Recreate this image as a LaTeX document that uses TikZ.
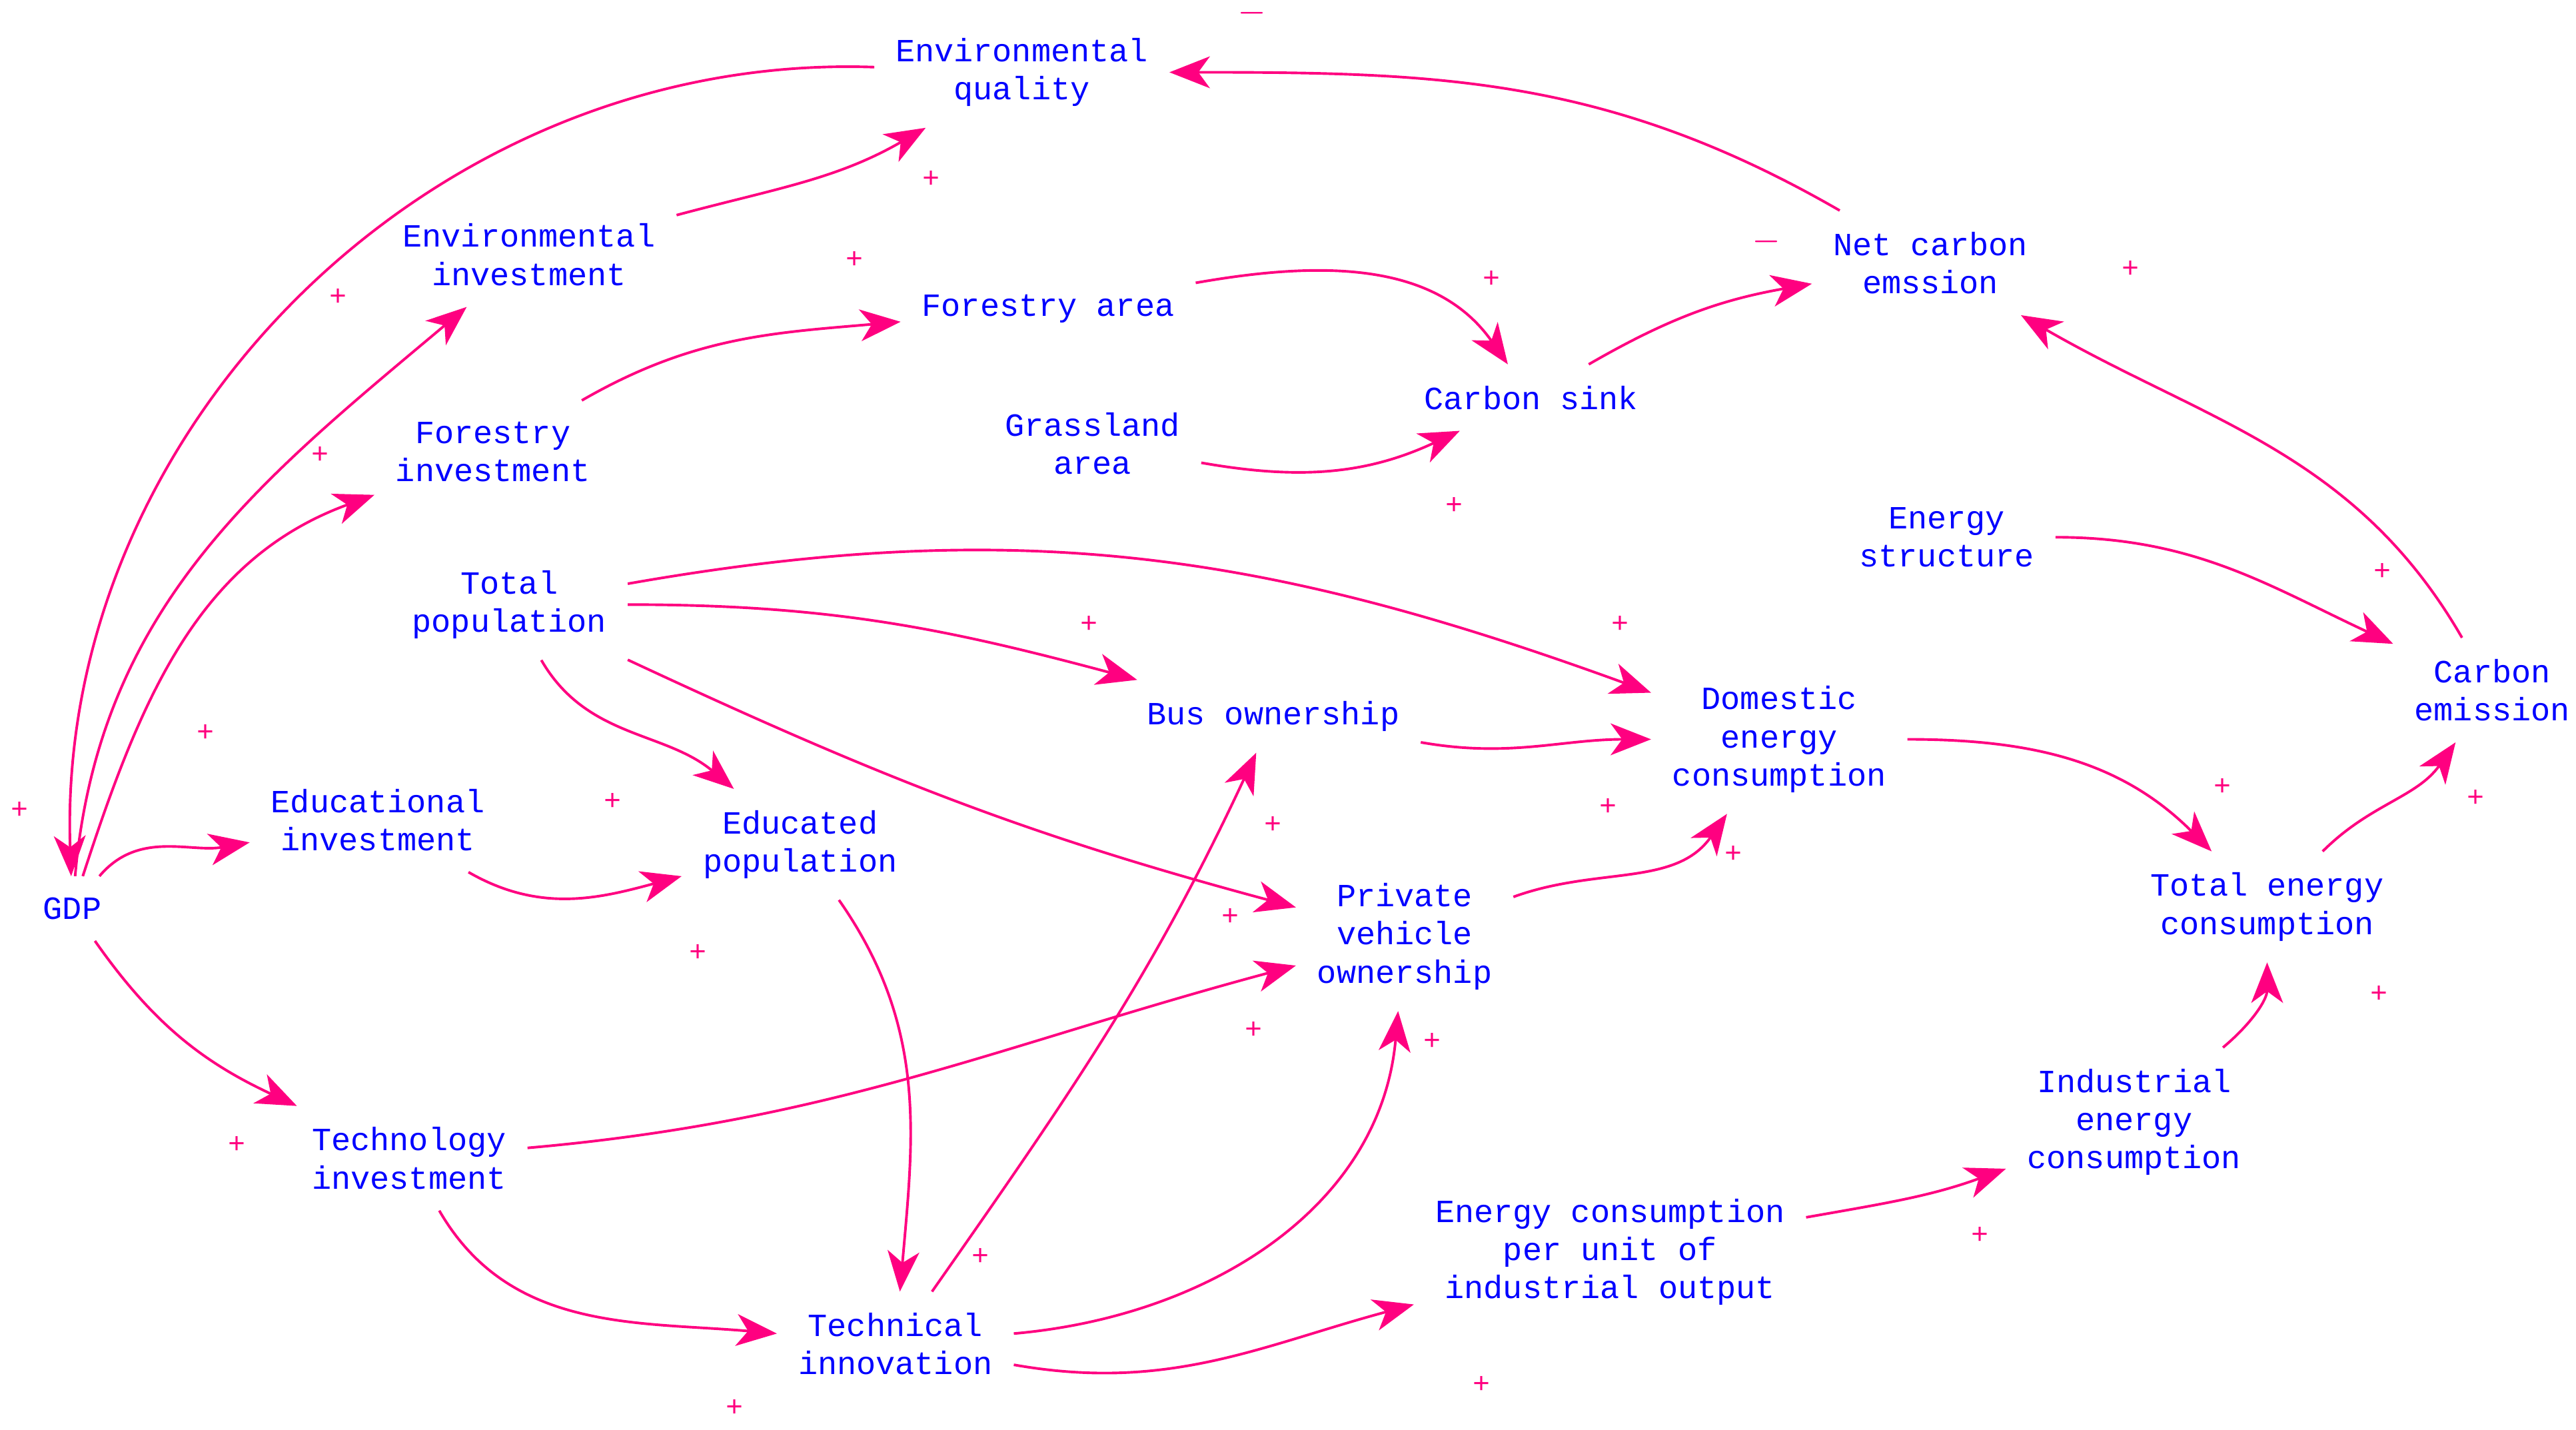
\documentclass[tikz,border=0pt]{standalone}
\usepackage{fontspec}
\setmonofont{Liberation Mono}
\usetikzlibrary{arrows.meta}
\definecolor{cldpink}{RGB}{255,0,128}
\definecolor{cldblue}{RGB}{0,0,255}
\tikzset{
  var/.style={text=cldblue, font=\ttfamily\fontsize{5.6}{6.6}\selectfont, align=center, inner sep=3.5pt},
  link/.style={draw=cldpink, line width=0.45pt, -{Stealth[length=7pt,width=5.5pt,inset=2pt]}},
  sgn/.style={text=cldpink, font=\ttfamily\fontsize{5}{5}\selectfont, inner sep=0pt}
}
\begin{document}
\begin{tikzpicture}[x=0.01cm, y=-0.01cm]
  \useasboundingbox (0,0) rectangle (1568,870);

  % variables
  \node[var] (EQ)  at (622,44)  {Environmental\\quality};
  \node[var] (EI)  at (322,155) {Environmental\\investment};
  \node[var] (FA)  at (638,188) {Forestry area};
  \node[var] (CS)  at (932,242) {Carbon sink};
  \node[var] (NCE) at (1175,160) {Net carbon\\emssion};
  \node[var] (GA)  at (665,270) {Grassland\\area};
  \node[var] (FI)  at (300,275) {Forestry\\investment};
  \node[var] (ES)  at (1185,327) {Energy\\structure};
  \node[var] (TP)  at (310,368) {Total\\population};
  \node[var] (BO)  at (775,436) {Bus ownership};
  \node[var] (DEC) at (1083,450) {Domestic\\energy\\consumption};
  \node[var] (CE)  at (1517,420) {Carbon\\emission};
  \node[var] (EdI) at (230,499) {Educational\\investment};
  \node[var] (EdP) at (487,514) {Educated\\population};
  \node[var] (GDP) at (44,553)  {GDP};
  \node[var] (PVO) at (855,570) {Private\\vehicle\\ownership};
  \node[var] (TEC) at (1380,552) {Total energy\\consumption};
  \node[var] (II)  at (1299,683) {Industrial\\energy\\consumption};
  \node[var] (TI)  at (249,705) {Technology\\investment};
  \node[var] (ECU) at (980,762) {Energy consumption\\per unit of\\industrial output};
  \node[var] (TIn) at (545,818) {Technical\\innovation};

  % causal links
  \draw[link] (EQ) to[out=178, in=92] (GDP);
  \draw[link] (EI) to[out=15, in=210] (EQ);
  \draw[link] (GDP) to[out=85, in=220] (EI);
  \draw[link] (GDP) to[out=72, in=200] (FI);
  \draw[link] (FI) to[out=30, in=185] (FA);
  \draw[link] (FA) to[out=10, in=125] (CS);
  \draw[link] (GA) to[out=-10, in=205] (CS);
  \draw[link] (CS) to[out=30, in=190] (NCE);
  \draw[link] (NCE) to[out=150, in=0] (EQ);
  \draw[link] (CE) to[out=120, in=-30] (NCE);
  \draw[link] (ES) to[out=0, in=155] (CE);
  \draw[link] (TP) to[out=10, in=160] (DEC);
  \draw[link] (TP) to[out=0, in=165] (BO);
  \draw[link] (TP) to[out=-25, in=165] (PVO);
  \draw[link] (TP) to[out=-60, in=140] (EdP);
  \draw[link] (GDP) to[out=50, in=190] (EdI);
  \draw[link] (EdI) to[out=-30, in=195] (EdP);
  \draw[link] (BO) to[out=-10, in=180] (DEC);
  \draw[link] (PVO) to[out=20, in=235] (DEC);
  \draw[link] (DEC) to[out=0, in=135] (TEC);
  \draw[link] (TEC) to[out=45, in=235] (CE);
  \draw[link] (II) to[out=40, in=270] (TEC);
  \draw[link] (ECU) to[out=10, in=200] (II);
  \draw[link] (TIn) to[out=-10, in=195] (ECU);
  \draw[link] (TIn) to[out=5, in=265] (PVO);
  \draw[link] (TIn) to[out=55, in=245] (BO);
  \draw[link] (EdP) to[out=-55, in=85] (TIn);
  \draw[link] (TI) to[out=-60, in=175] (TIn);
  \draw[link] (TI) to[out=5, in=195] (PVO);
  \draw[link] (GDP) to[out=-55, in=155] (TI);

  % polarities
  \foreach \x/\y/\s in {12/493/+, 567/109/+, 206/181/+, 195/277/+, 520/158/+,
      908/170/+, 885/308/+, 1075/147/$-$, 762/8/$-$, 1297/164/+, 1450/348/+,
      986/380/+, 663/380/+, 749/558/+, 373/488/+, 125/446/+, 425/580/+,
      979/491/+, 1055/520/+, 1353/479/+, 1507/486/+, 1448/605/+, 1205/752/+,
      902/843/+, 872/634/+, 775/502/+, 597/765/+, 447/857/+, 763/627/+, 144/697/+}
    \node[sgn] at (\x,\y) {\s};
\end{tikzpicture}
\end{document}
